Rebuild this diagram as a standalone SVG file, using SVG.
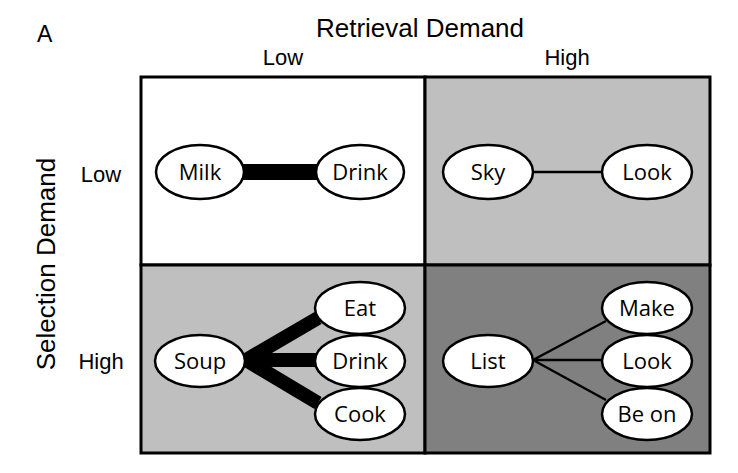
<svg xmlns="http://www.w3.org/2000/svg" width="738" height="473" viewBox="0 0 738 473">
<style>
.lbl{font-family:"Liberation Sans",Arial,sans-serif;fill:#000}
.n ellipse{fill:#fff;stroke:#000;stroke-width:2.5}
.n text{font-family:"Open Sans","Noto Sans",sans-serif;font-size:22px;text-anchor:middle;fill:#000}
.cell{stroke:#000;stroke-width:3}
.e{stroke:#000;fill:none}
</style>
<rect width="738" height="473" fill="#fff"/>
<text class="lbl" x="37" y="42" font-size="23">A</text>
<text class="lbl" x="420" y="37" font-size="26" text-anchor="middle">Retrieval Demand</text>
<text class="lbl" x="283" y="65" font-size="22" text-anchor="middle">Low</text>
<text class="lbl" x="567" y="65" font-size="22" text-anchor="middle">High</text>
<text class="lbl" transform="translate(55,264) rotate(-90)" font-size="26" text-anchor="middle">Selection Demand</text>
<text class="lbl" x="101" y="182" font-size="22" text-anchor="middle">Low</text>
<text class="lbl" x="101" y="369" font-size="22" text-anchor="middle">High</text>
<g id="grid">
<rect class="cell" x="141" y="77" width="284" height="188" fill="#fff"/>
<rect class="cell" x="425" y="77" width="285" height="188" fill="#bfbfbf"/>
<rect class="cell" x="141" y="265" width="284" height="188" fill="#bfbfbf"/>
<rect class="cell" x="425" y="265" width="285" height="188" fill="#808080"/>
</g>
<g id="connectors">
<line class="e" x1="240" y1="172" x2="320" y2="172" stroke-width="16"/>
<line class="e" x1="530" y1="172" x2="605" y2="172" stroke-width="2.5"/>
<path class="e" d="M246 360 L318 318 M246 360 L318 360 M246 360 L318 403" stroke-width="14" stroke-linejoin="round"/>
<path class="e" d="M533 360 L606 321 M533 360 L604 360 M533 360 L606 400" stroke-width="2.5"/>
</g>
<g id="milk" class="n"><ellipse cx="200" cy="172" rx="44" ry="27"/><text x="200" y="180">Milk</text></g>
<g id="drink1" class="n"><ellipse cx="360" cy="172" rx="44" ry="27"/><text x="360" y="180">Drink</text></g>
<g id="sky" class="n"><ellipse cx="488" cy="172" rx="45" ry="27"/><text x="488" y="180">Sky</text></g>
<g id="look1" class="n"><ellipse cx="647" cy="172" rx="45" ry="27"/><text x="647" y="180">Look</text></g>
<g id="soup" class="n"><ellipse cx="200" cy="361" rx="45" ry="26"/><text x="200" y="369">Soup</text></g>
<g id="eat" class="n"><ellipse cx="360" cy="308" rx="45" ry="26"/><text x="360" y="316">Eat</text></g>
<g id="drink2" class="n"><ellipse cx="360" cy="361" rx="45" ry="26"/><text x="360" y="369">Drink</text></g>
<g id="cook" class="n"><ellipse cx="360" cy="414" rx="45" ry="26"/><text x="360" y="422">Cook</text></g>
<g id="list" class="n"><ellipse cx="488" cy="361" rx="45" ry="26"/><text x="488" y="369">List</text></g>
<g id="make" class="n"><ellipse cx="647" cy="308" rx="45" ry="26"/><text x="647" y="316">Make</text></g>
<g id="look2" class="n"><ellipse cx="647" cy="361" rx="45" ry="26"/><text x="647" y="369">Look</text></g>
<g id="beon" class="n"><ellipse cx="647" cy="414" rx="45" ry="26"/><text x="647" y="422">Be on</text></g>
</svg>
